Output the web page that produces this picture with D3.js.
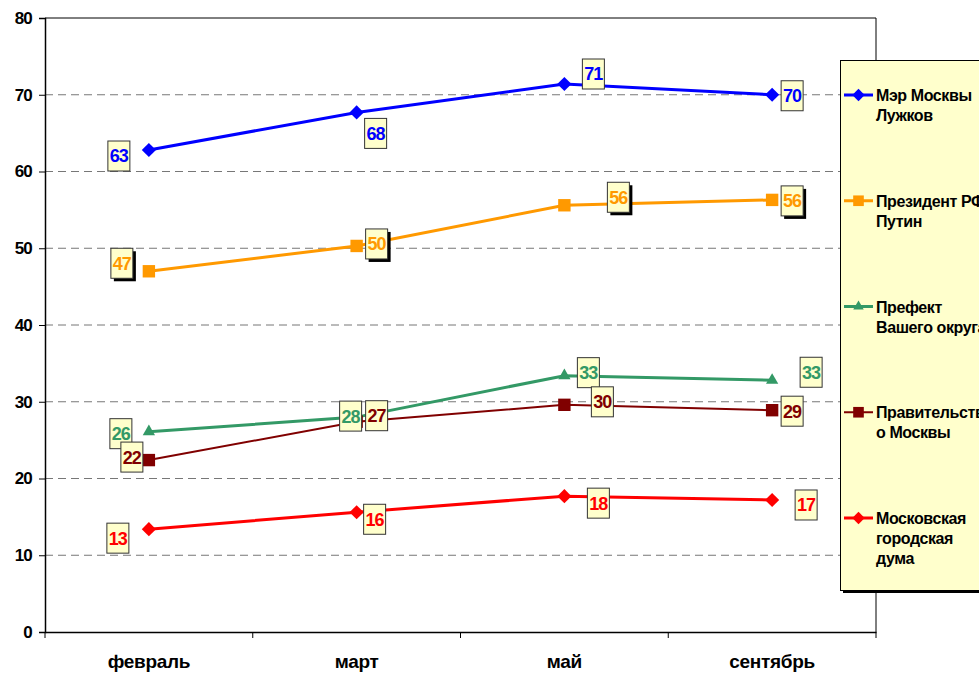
<!DOCTYPE html>
<html>
<head>
<meta charset="utf-8">
<script src="https://cdn.jsdelivr.net/npm/d3@7"></script>
<style>
  body { margin: 0; background: #fff; }
  text { font-family: "Liberation Sans", Arial, sans-serif; font-weight: bold; }
</style>
</head>
<body>
<svg id="chart" width="979" height="676"></svg>
<script>
// categories (months)
const months = ['февраль', 'март', 'май', 'сентябрь']
const yTicks = [0, 10, 20, 30, 40, 50, 60, 70, 80]

// series values
const mayor = [62.8, 67.7, 71.4, 70.0]
const president = [47.0, 50.3, 55.6, 56.3]
const prefect = [26.1, 28.0, 33.4, 32.8]
const government = [22.4, 27.4, 29.6, 28.9]
const duma = [13.4, 15.6, 17.7, 17.2]

const seriesNames = [
  ['Мэр Москвы', 'Лужков'],
  ['Президент РФ', 'Путин'],
  ['Префект', 'Вашего округа'],
  ['Правительств', 'о Москвы'],
  ['Московская', 'городская', 'дума']
]

// where each data label sits relative to its point
const labelOffsets = [
  [[-30, 6], [19, 21], [29, -10], [20, 1]],
  [[-27, -8], [20, -2], [54, -8], [20, 1]],
  [[-28, 2], [-6, -1], [24, -3], [39, -8]],
  [[-17, -3], [20, -6], [38, -3], [20, 1]],
  [[-31, 9], [18, 7], [34, 7], [34, 5]]
]

const series = [
  { values: mayor, color: '#0000ff', width: 3, marker: 'diamond', shadow: false },
  { values: president, color: '#ff9900', width: 3, marker: 'square', shadow: true },
  { values: prefect, color: '#339966', width: 3, marker: 'triangle', shadow: false },
  { values: government, color: '#800000', width: 2, marker: 'square', shadow: false },
  { values: duma, color: '#ff0000', width: 3, marker: 'diamond', shadow: false }
]

const margin = { left: 45, top: 18, right: 876, bottom: 632 }
const svg = d3.select('#chart')

const xScale = d3.scaleBand().domain(months).range([margin.left, margin.right])
const yScale = d3.scaleLinear().domain([0, 80]).range([margin.bottom, margin.top])
const xc = m => xScale(m) + xScale.bandwidth() / 2

// gridlines
svg.append('g').selectAll('line')
  .data(yTicks.filter(t => t > 0 && t < 80))
  .enter().append('line')
  .attr('x1', margin.left).attr('x2', margin.right)
  .attr('y1', d => yScale(d)).attr('y2', d => yScale(d))
  .attr('stroke', '#777').attr('stroke-width', 1)
  .attr('stroke-dasharray', '8,5')

// plot border top / right
svg.append('line')
  .attr('x1', margin.left).attr('x2', margin.right)
  .attr('y1', yScale(80)).attr('y2', yScale(80))
  .attr('stroke', '#000')
svg.append('line')
  .attr('x1', margin.right).attr('x2', margin.right)
  .attr('y1', yScale(80)).attr('y2', margin.bottom)
  .attr('stroke', '#000')

// y axis
const yAxis = svg.append('g')
  .attr('transform', 'translate(' + margin.left + ',0)')
  .call(d3.axisLeft(yScale).tickValues(yTicks).tickSize(6).tickPadding(7))
yAxis.select('.domain').attr('stroke', '#000').attr('stroke-width', 1.5)
yAxis.selectAll('.tick line').attr('stroke', '#000')
yAxis.selectAll('text').attr('font-size', 17).attr('fill', '#000')
  .attr('letter-spacing', -0.8)
  .style('font-family', '"Liberation Sans", Arial, sans-serif').style('font-weight', 'bold')

// x axis
const xAxis = svg.append('g')
  .attr('transform', 'translate(0,' + margin.bottom + ')')
  .call(d3.axisBottom(xScale).tickSize(0).tickPadding(23))
xAxis.select('.domain').attr('stroke', '#000').attr('stroke-width', 1.5)
xAxis.selectAll('text').attr('font-size', 19).attr('fill', '#000')
  .attr('letter-spacing', -0.3)
  .style('font-family', '"Liberation Sans", Arial, sans-serif').style('font-weight', 'bold')
// ticks between categories
svg.append('g').selectAll('line')
  .data(months.concat(['end']))
  .enter().append('line')
  .attr('x1', (d, i) => margin.left + i * xScale.step())
  .attr('x2', (d, i) => margin.left + i * xScale.step())
  .attr('y1', margin.bottom).attr('y2', margin.bottom + 6)
  .attr('stroke', '#000')

function markerPath (type, size) {
  if (type === 'diamond') return d3.symbol(d3.symbolDiamond2, size * size * 0.5)()
  if (type === 'triangle') return d3.symbol(d3.symbolTriangle2, size * size * 0.55)()
  return d3.symbol(d3.symbolSquare2, size * size)()
}

const line = d3.line()
  .x((d, i) => xc(months[i]))
  .y(d => yScale(d))

series.forEach(function (s, si) {
  const g = svg.append('g')
  g.append('path')
    .attr('d', line(s.values))
    .attr('fill', 'none')
    .attr('stroke', s.color)
    .attr('stroke-width', s.width)

  g.selectAll('path.mk')
    .data(s.values)
    .enter().append('path')
    .attr('class', 'mk')
    .attr('d', markerPath(s.marker, s.marker === 'diamond' ? 16 : 14))
    .attr('transform', (d, i) => 'translate(' + xc(months[i]) + ',' + yScale(d) + ')')
    .attr('fill', s.color)
})

// data labels
series.forEach(function (s, si) {
  const g = svg.append('g')
  const lab = g.selectAll('g')
    .data(s.values)
    .enter().append('g')
    .attr('transform', (d, i) => 'translate(' + (xc(months[i]) + labelOffsets[si][i][0]) + ',' +
      (yScale(d) + labelOffsets[si][i][1]) + ')')
  if (s.shadow) {
    lab.append('rect')
      .attr('x', -11 + 3).attr('y', -15 + 3)
      .attr('width', 22).attr('height', 30)
      .attr('fill', '#000')
  }
  lab.append('rect')
    .attr('x', -11).attr('y', -15)
    .attr('width', 22).attr('height', 30)
    .attr('fill', '#ffffcc')
    .attr('stroke', '#333').attr('stroke-width', 1)
  lab.append('text')
    .attr('text-anchor', 'middle')
    .attr('dy', '0.36em')
    .attr('font-size', 18)
    .attr('letter-spacing', -1)
    .attr('fill', s.color)
    .text(d => Math.round(d))
})

// legend
const legend = svg.append('g')
legend.append('rect')
  .attr('x', 843).attr('y', 63).attr('width', 160).attr('height', 530)
  .attr('fill', '#000')
legend.append('rect')
  .attr('x', 840.5).attr('y', 60.5).attr('width', 160).attr('height', 530)
  .attr('fill', '#ffffcc').attr('stroke', '#000').attr('stroke-width', 1)

const legendY = d3.scaleLinear().domain([0, 4]).range([95, 518])
series.forEach(function (s, si) {
  const y = legendY(si)
  const item = legend.append('g')
  item.append('line')
    .attr('x1', 844).attr('x2', 873).attr('y1', y).attr('y2', y)
    .attr('stroke', s.color).attr('stroke-width', s.width)
  item.append('path')
    .attr('d', markerPath(s.marker, s.marker === 'diamond' ? 14 : 12))
    .attr('transform', 'translate(858.5,' + y + ')')
    .attr('fill', s.color)
  item.selectAll('text')
    .data(seriesNames[si])
    .enter().append('text')
    .attr('x', 876)
    .attr('y', (d, i) => y + 6 + i * 20)
    .attr('font-size', 16)
    .attr('letter-spacing', -0.4)
    .attr('fill', '#000')
    .text(d => d)
})
</script>
</body>
</html>
